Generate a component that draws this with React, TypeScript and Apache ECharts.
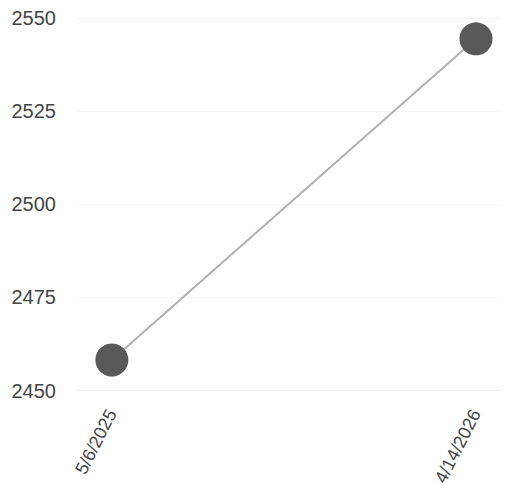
import React, { useEffect, useRef } from "react";
import * as echarts from "echarts";

const categories = ["5/6/2025", "4/14/2026"];
const values = [2458.2, 2544.4];
const yTicks = { min: 2450, max: 2550, interval: 25 };

export default function App() {
  const ref = useRef<HTMLDivElement>(null);
  useEffect(() => {
    if (!ref.current) return;
    const chart = echarts.init(ref.current, undefined, { renderer: "svg" });
    const data = values.map((v, i) => [i, v]);
    chart.setOption({
      animation: false,
      grid: { left: 78, right: 9, top: 18, bottom: 106.5, containLabel: false },
      xAxis: {
        type: "value",
        min: -0.093,
        max: 1.066,
        axisLine: { show: true, lineStyle: { color: "#eeeeee", width: 1 } },
        axisTick: { show: false },
        splitLine: { show: false },
        axisLabel: {
          customValues: categories.map((_, i) => i),
          formatter: (v: number) => categories[Math.round(v)] ?? "",
          rotate: 63,
          fontSize: 18,
          color: "#444",
          fontFamily: "Liberation Sans, Arial, sans-serif",
          margin: 20,
        },
      },
      yAxis: {
        type: "value",
        min: yTicks.min,
        max: yTicks.max,
        interval: yTicks.interval,
        axisLine: { show: false },
        axisTick: { show: false },
        splitLine: { show: true, lineStyle: { color: "#f6f6f6", width: 1 } },
        axisLabel: {
          formatter: (v: number) => String(v),
          fontSize: 20,
          color: "#444",
          fontFamily: "Liberation Sans, Arial, sans-serif",
          margin: 22,
        },
      },
      series: [
        {
          type: "line",
          data,
          symbol: "circle",
          symbolSize: 33,
          itemStyle: { color: "#595959" },
          lineStyle: { color: "#b0b0b0", width: 2 },
        },
      ],
    });
    return () => chart.dispose();
  }, []);
  return <div ref={ref} style={{ width: 509, height: 497, position: "absolute", left: 0, top: 0, background: "#fff" }} />;
}
